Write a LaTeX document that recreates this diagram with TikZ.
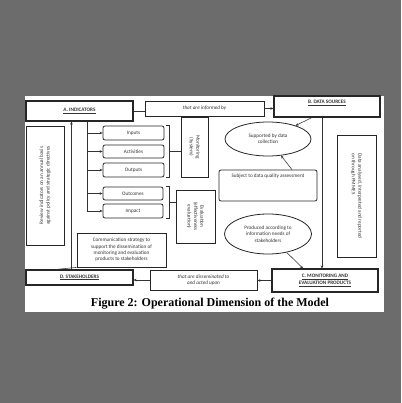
\documentclass[tikz,border=0pt]{standalone}
\usepackage{fontspec}
\setmainfont{Carlito}
\newfontfamily\capfont{Liberation Serif}
\usetikzlibrary{arrows.meta,calc,shapes.geometric}
\definecolor{bg}{RGB}{108,108,108}
\begin{document}
\begin{tikzpicture}[x=1pt,y=-1pt,
 every node/.style={font=\fontsize{5.2}{6.4}\selectfont, text=black!80, inner sep=1pt},
 box/.style={draw=black!85, line width=0.8pt, rectangle},
 hbox/.style={draw=black!85, line width=1.1pt, rectangle, font=\fontsize{5.2}{6.4}\selectfont\bfseries},
 rbox/.style={box, rounded corners=2pt},
 ell/.style={draw=black!85, line width=0.8pt, ellipse, inner sep=0pt},
 arr/.style={-{Stealth[length=3pt,width=2.6pt]}, draw=black!80, line width=0.55pt},
 ln/.style={draw=black!80, line width=0.55pt}]
\useasboundingbox (0,0) rectangle (401,403);
\fill[bg] (0,0) rectangle (401,403);
\fill[white] (25,96) rectangle (384,312);

% top row
\node[hbox, minimum width=107pt, minimum height=20pt] (A) at (79.5,111) {\underline{A. INDICATORS}};
\node[box, minimum width=119pt, minimum height=15pt, font=\fontsize{5.2}{6.4}\selectfont\itshape] (inf) at (204.5,108.5) {that are informed by};
\node[hbox, minimum width=106pt, minimum height=21pt, text depth=9pt] (B) at (327,106.5) {\underline{B. DATA SOURCES}};

% left box
\node[box, rotate=90, minimum width=119pt, minimum height=38pt, align=center] (rev) at (45,185.5) {Review indicators on an annual basis\\against policy and strategic directives};

% indicator boxes
\node[rbox, minimum width=61pt, minimum height=14pt] (inp) at (133.5,133) {Inputs};
\node[rbox, minimum width=61pt, minimum height=13pt] (act) at (133.5,151.5) {Activities};
\node[rbox, minimum width=61pt, minimum height=14pt] (outp) at (133.5,170) {Outputs};
\node[rbox, minimum width=60pt, minimum height=13pt] (outc) at (133,193.5) {Outcomes};
\node[rbox, minimum width=60pt, minimum height=14pt] (imp) at (133,211) {Impact};

% monitoring / evaluation
\node[box, rotate=-90, minimum width=60pt, minimum height=27pt, align=center] (mon) at (194.5,147) {Monitoring\\(System)};
\node[box, rotate=-90, minimum width=53pt, minimum height=39pt, align=center] (eval) at (195.5,216.5) {Evaluation\\(effectiveness\\evaluation)};

% data side
\node[ell, minimum width=86pt, minimum height=34pt, align=center] (sup) at (268,139) {Supported by data\\collection};
\node[rbox, minimum width=98pt, minimum height=31pt, text height=4pt, text depth=19pt] (subj) at (268,185.5) {Subject to data quality assessment};
\node[box, rotate=-90, minimum width=122pt, minimum height=39pt, align=left] (dat) at (356.5,196) {Data analysed, interpreted and reported\\on through PMMES};
\node[ell, minimum width=87pt, minimum height=40pt, align=center] (prod) at (268,234) {Produced according to\\information needs of\\stakeholders};

% bottom row
\node[box, minimum width=89pt, minimum height=34pt, align=center] (comm) at (121.5,250) {Communication strategy to\\support the dissemination of\\monitoring and evaluation\\products to stakeholders};
\node[hbox, minimum width=107pt, minimum height=15pt] (D) at (79.5,277.5) {\underline{D. STAKEHOLDERS}};
\node[box, minimum width=107pt, minimum height=20pt, align=center, font=\fontsize{5.2}{6.4}\selectfont\itshape] (dis) at (203.5,280) {that are disseminated to\\and acted upon};
\node[hbox, minimum width=106pt, minimum height=23pt, align=center] (C) at (325,280.5) {\underline{C. MONITORING AND}\\\underline{EVALUATION PRODUCTS}};

\node[font=\capfont\bfseries\fontsize{12}{14}\selectfont, text=black] (cap) at (210,304) {Figure 2: Operational Dimension of the Model};

% connectors
\draw[ln] (A.east) -- (A.east -| inf.west);
\draw[arr] (inf.east) -- (inf.east -| B.west);
\draw[arr] ([xshift=46pt]D.north west) -- ([xshift=46pt]A.south west);
\coordinate (br) at ([xshift=62pt]A.south west);
\draw[ln] (br) -- (br |- imp.west);
\foreach \n in {inp,act,outp,outc,imp}{
  \draw[arr] (br |- \n.west) -- (\n.west);
}
% brackets
\draw[ln] ([xshift=2pt]inp.north east) -- ++(3,0) coordinate (b1t) -- ([xshift=5pt]outp.south east) coordinate (b1b) -- ++(-3,0);
\coordinate (b1m) at ($(b1t)!0.5!(b1b)$);
\draw[ln] (b1m) -- (b1m -| mon.south);
\draw[ln] ([xshift=3pt]outc.north east) -- ++(3,0) coordinate (b2t) -- ([xshift=6pt]imp.south east) coordinate (b2b) -- ++(-3,0);
\coordinate (b2m) at ($(b2t)!0.5!(b2b)$);
\draw[ln] (b2m) -- (b2m -| eval.south);

\draw[arr] ([xshift=-15pt]B.south) -- (sup);
\draw[arr] ([xshift=24pt]subj.north) -- (sup);
\draw[arr] ([xshift=-5pt]B.south) -- ([xshift=-5pt]B.south |- C.north);
\draw[arr] (prod) -- ([xshift=-22pt]C.north);
\draw[arr] (C.west) -- (C.west -| dis.east);
\draw[arr] (dis.west) -- (dis.west -| D.east);
\draw[ln] ([xshift=30pt]D.north west) -- (comm.south west);
\end{tikzpicture}
\end{document}
